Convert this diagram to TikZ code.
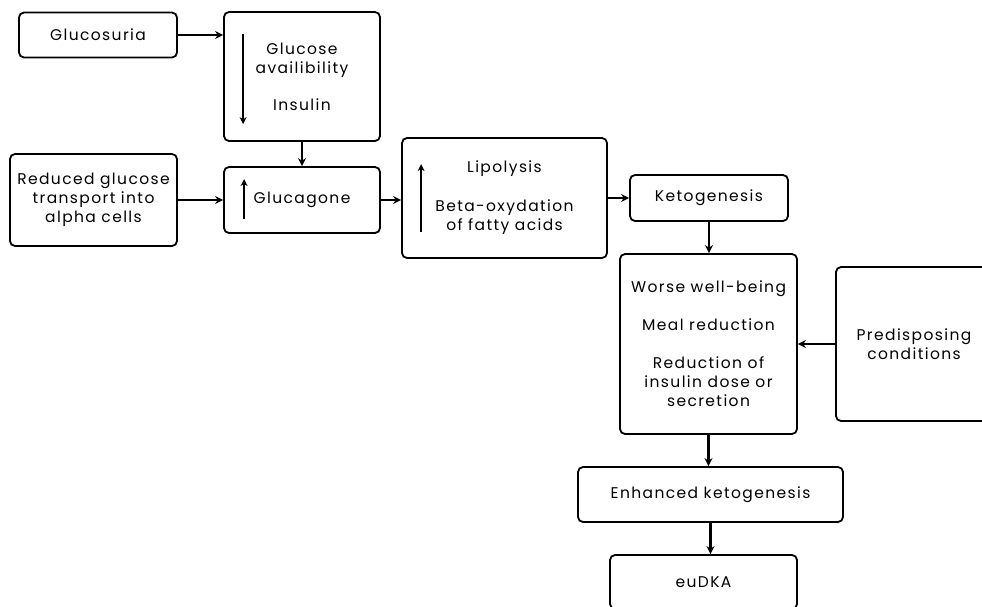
\documentclass[tikz,border=0pt]{standalone}
\usepackage{fontspec}
\setmainfont[LetterSpace=9]{Poppins}
\usetikzlibrary{arrows.meta,calc}

\begin{document}
\begin{tikzpicture}[x=1pt,y=-1pt,
    box/.style={draw, line width=1.8pt, rounded corners=5pt, align=center, inner sep=0pt,
      font=\fontsize{15.5}{19}\selectfont},
    link/.style={line width=2.1pt, -{Stealth[length=8pt,width=8pt]}},
    updown/.style={line width=1.8pt, -{Stealth[length=7pt,width=7pt]}}]

      % Fix the picture size
      \useasboundingbox (0,0) rectangle (982,606);
      \clip (0,0) rectangle (982,606);

      % Draw the boxes
      \node[box, minimum width=158pt, minimum height=45pt] (glucosuria) at (98,35) {Glucosuria};
      \node[box, minimum width=156pt, minimum height=129pt] (gav) at (302,76.5) {Glucose\\availibility\\[18pt]Insulin};
      \node[box, minimum width=167pt, minimum height=92pt] (reduced) at (93.5,200) {Reduced glucose\\transport into\\alpha cells};
      \node[box, minimum width=156pt, minimum height=66pt] (glucagone) at (302,200) {Glucagone};
      \node[box, minimum width=205pt, minimum height=120pt] (lipo) at (504.5,198) {Lipolysis\\[20pt]Beta-oxydation\\of fatty acids};
      \node[box, minimum width=158pt, minimum height=46pt] (keto) at (709,198) {Ketogenesis};
      \node[box, minimum width=177pt, minimum height=180pt] (worse) at (708.5,344) {Worse well-being\\[19pt]Meal reduction\\[19pt]Reduction of\\insulin dose or\\secretion};
      \node[box, minimum width=156pt, minimum height=154pt] (pre) at (914,344) {Predisposing\\conditions};
      \node[box, minimum width=265pt, minimum height=55pt] (enh) at (710.5,494.5) {Enhanced ketogenesis};
      \node[box, minimum width=187pt, minimum height=54pt] (eudka) at (703.5,582) {euDKA};

      % Draw the up and down signs
      \draw[updown] ($(gav.north west)+(20,23)$) -- ($(gav.north west)+(20,113)$);
      \draw[updown] ($(glucagone.north west)+(21,53)$) -- ($(glucagone.north west)+(21,13)$);
      \draw[updown] ($(lipo.north west)+(20,95)$) -- ($(lipo.north west)+(20,27)$);

      % Draw the links
      \draw[link] (glucosuria.east) -- (glucosuria.east -| gav.west);
      \draw[link] (gav.south) -- (glucagone.north);
      \draw[link] (reduced.east) -- (glucagone.west);
      \draw[link] (glucagone.east) -- (glucagone.east -| lipo.west);
      \draw[link] (lipo.east) -- (keto.west);
      \draw[link] (keto.south) -- (keto.south |- worse.north);
      \draw[link] (pre.west) -- (worse.east);
      \draw[link] (worse.south) -- (worse.south |- enh.north);
      \draw[link] (enh.south) -- (enh.south |- eudka.north);
    \end{tikzpicture}
\end{document}
